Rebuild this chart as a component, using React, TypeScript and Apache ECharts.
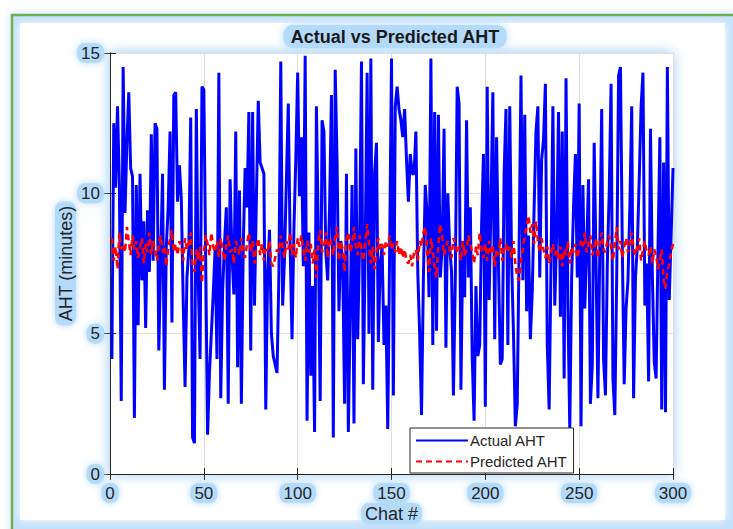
import React, { useEffect, useRef } from "react";
import * as echarts from "echarts";

const chartTitle = "Actual vs Predicted AHT";
const xAxisName = "Chat #";
const yAxisName = "AHT (minutes)";
const seriesNames = ["Actual AHT", "Predicted AHT"];

const actualAHT = [
  4.1, 12.5, 10.2, 13.1, 10.3, 2.6, 14.5, 9.3, 11.8, 13.6,
  10.9, 10.6, 2.0, 10.3, 5.3, 10.7, 6.9, 9.0, 5.2, 9.4,
  7.2, 12.1, 7.6, 12.5, 12.3, 4.4, 7.6, 10.7, 3.0, 8.1,
  9.5, 12.2, 5.4, 13.5, 13.6, 9.7, 11.0, 9.8, 6.2, 3.1,
  7.0, 8.0, 12.7, 1.3, 1.1, 13.0, 7.0, 4.1, 13.8, 13.7,
  7.5, 1.4, 3.6, 5.0, 6.4, 8.0, 4.1, 14.3, 2.7, 6.5,
  8.2, 9.5, 2.5, 10.5, 7.8, 6.4, 12.2, 3.8, 10.1, 2.5,
  8.1, 10.9, 9.5, 12.9, 4.4, 12.9, 6.0, 9.8, 13.3, 11.1,
  10.9, 10.7, 2.3, 7.2, 8.7, 5.0, 4.2, 3.9, 3.6, 7.1,
  14.7, 6.0, 7.7, 10.5, 13.2, 8.1, 4.8, 8.7, 11.2, 14.3,
  9.9, 12.0, 7.4, 14.9, 1.9, 8.6, 3.5, 6.7, 1.5, 13.1,
  8.6, 2.6, 12.6, 12.2, 7.9, 6.9, 9.5, 13.5, 1.3, 14.4,
  11.1, 5.8, 8.3, 7.5, 2.5, 10.7, 1.5, 5.8, 10.3, 1.8,
  11.6, 4.8, 8.2, 14.7, 3.2, 8.1, 14.3, 5.0, 14.8, 3.0,
  10.7, 11.8, 4.7, 7.5, 8.1, 4.6, 6.0, 1.6, 7.9, 14.8,
  2.8, 13.1, 13.8, 13.0, 12.6, 12.0, 13.0, 11.2, 9.7, 11.4,
  10.7, 10.7, 12.2, 7.2, 5.0, 2.1, 7.0, 10.3, 9.2, 6.3,
  14.8, 4.6, 12.9, 5.1, 12.8, 7.0, 8.1, 12.3, 4.5, 10.0,
  8.1, 7.2, 2.8, 7.0, 13.8, 13.2, 3.0, 8.3, 6.3, 12.6,
  7.0, 9.5, 4.2, 1.9, 6.7, 4.2, 4.6, 8.8, 11.4, 2.4,
  13.8, 6.2, 9.5, 13.6, 4.8, 12.0, 7.5, 3.9, 4.1, 10.7,
  13.0, 4.6, 13.1, 7.6, 5.0, 1.7, 2.5, 8.1, 14.2, 6.9,
  12.8, 5.8, 8.5, 4.8, 6.5, 9.5, 12.2, 13.1, 7.0, 11.2,
  11.9, 13.9, 4.6, 2.3, 7.5, 13.1, 6.0, 8.5, 12.9, 5.6,
  12.2, 3.4, 14.1, 6.0, 1.6, 7.0, 9.5, 11.4, 7.0, 13.2,
  1.7, 10.3, 5.9, 8.1, 10.5, 2.5, 3.9, 11.8, 7.5, 2.7,
  8.1, 13.0, 4.1, 2.8, 7.5, 10.0, 13.9, 3.4, 2.1, 7.0,
  14.2, 14.5, 8.0, 3.2, 5.9, 6.9, 9.5, 13.1, 2.7, 7.0,
  8.1, 10.5, 13.1, 14.3, 6.0, 7.5, 3.3, 12.3, 7.1, 4.0,
  3.4, 8.0, 12.0, 2.3, 11.1, 2.2, 14.5, 6.2, 8.5, 10.9,
];

const predictedAHT = [
  8.4, 7.6, 8.1, 7.3, 8.6, 8.0, 8.2, 7.9, 8.8, 8.3,
  7.8, 8.5, 8.0, 8.3, 7.7, 8.1, 8.4, 7.5, 8.2, 7.9,
  8.6, 7.8, 8.3, 8.0, 7.6, 8.2, 8.5, 7.9, 8.1, 7.4,
  8.0, 8.4, 8.7, 7.9, 8.2, 7.8, 8.3, 8.1, 7.6, 8.4,
  8.0, 8.2, 8.6, 7.4, 7.2, 8.0, 7.6, 8.1, 6.8, 7.9,
  8.5, 8.2, 7.8, 8.6, 8.1, 7.9, 8.3, 7.7, 8.4, 8.0,
  7.6, 8.2, 8.5, 7.9, 8.0, 7.5, 8.3, 8.1, 7.8, 8.4,
  8.0, 7.7, 8.2, 8.6, 7.9, 8.3, 7.5, 8.1, 8.4, 7.8,
  8.2, 7.6, 8.0, 7.9, 8.3, 7.5, 7.4, 7.7, 8.0, 7.9,
  8.5, 8.1, 7.7, 8.3, 8.0, 8.6, 7.8, 8.2, 7.7, 8.4,
  8.1, 8.5, 8.0, 7.6, 8.3, 7.9, 8.2, 7.5, 8.0, 7.0,
  8.3, 8.7, 7.9, 8.1, 8.6, 7.7, 8.4, 8.2, 7.8, 8.5,
  8.8, 7.6, 8.3, 8.0, 7.2, 8.4, 8.6, 7.9, 8.2, 8.8,
  8.1, 7.8, 8.5, 8.0, 7.6, 8.3, 8.9, 8.2, 7.5, 8.1,
  7.3, 7.9, 8.4, 8.0, 8.2, 7.8, 8.3, 8.1, 8.5, 8.0,
  8.2, 7.9, 8.3, 7.8, 8.1, 7.7, 8.0, 7.6, 7.5, 7.8,
  7.4, 7.9, 8.0, 7.6, 8.3, 8.1, 8.6, 8.8, 7.9, 7.2,
  8.4, 8.0, 7.3, 7.0, 8.2, 8.9, 8.5, 7.8, 8.1, 8.3,
  8.0, 7.7, 8.4, 8.2, 7.9, 8.1, 7.6, 8.3, 7.8, 8.0,
  8.5, 8.2, 7.9, 7.5, 8.1, 7.8, 8.6, 8.0, 7.7, 8.2,
  7.6, 8.3, 7.9, 8.1, 7.4, 8.0, 7.8, 8.4, 7.6, 8.0,
  8.2, 7.9, 8.1, 7.7, 8.3, 7.5, 7.0, 6.9, 7.6, 8.0,
  8.5, 8.8, 9.2, 8.6, 8.9, 8.2, 9.0, 8.3, 7.9, 8.4,
  8.0, 7.7, 8.1, 7.5, 7.9, 8.2, 7.8, 8.0, 7.6, 8.1,
  7.4, 8.0, 7.8, 8.3, 7.5, 8.1, 7.9, 8.2, 7.7, 8.0,
  8.3, 8.1, 8.6, 7.9, 8.2, 8.5, 7.8, 8.0, 8.4, 7.7,
  8.2, 8.6, 8.0, 7.9, 8.3, 8.5, 8.1, 7.6, 8.2, 8.8,
  8.0, 8.3, 7.7, 8.1, 8.4, 7.9, 8.2, 8.6, 8.0, 7.8,
  8.1, 8.4, 7.6, 8.0, 8.3, 7.9, 7.8, 8.1, 7.5, 8.0,
  7.8, 7.3, 7.6, 8.0, 6.9, 6.6, 7.2, 7.5, 7.9, 8.2,
];

const xMin = 0;
const xMax = 300;
const xInterval = 50;
const yMin = 0;
const yMax = 15;
const yInterval = 5;

const FONT = "'Liberation Sans', Arial, Helvetica, sans-serif";
const INK = "#262626";
const GLOW = "#b4dafa";

const glowBox = {
  backgroundColor: GLOW,
  borderRadius: 8,
  padding: [2, 4, 1, 4],
  shadowBlur: 7,
  shadowColor: GLOW,
};

export default function App() {
  const ref = useRef<HTMLDivElement>(null);

  useEffect(() => {
    if (!ref.current) return;
    const chart = echarts.init(ref.current, undefined, { renderer: "svg" });

    const actualData = actualAHT.map((v, i) => [i + 1, v]);
    const predData = predictedAHT.map((v, i) => [i + 1, v]);

    const hiddenAxisCommon = {
      axisLabel: { show: false },
      splitLine: { show: false },
      axisLine: { show: true, lineStyle: { color: INK, width: 1 } },
      axisTick: { show: true, inside: true, length: 6, lineStyle: { color: INK } },
    };

    chart.setOption({
      animation: false,
      backgroundColor: "#ffffff",
      title: {
        text: chartTitle,
        left: 388,
        top: 25,
        textAlign: "center",
        padding: [3, 7, 2, 7],
        backgroundColor: GLOW,
        borderRadius: 9,
        shadowBlur: 8,
        shadowColor: GLOW,
        textStyle: {
          fontFamily: FONT,
          fontSize: 18,
          fontWeight: "bold",
          color: "#1a1a1a",
        },
      },
      graphic: [
        {
          type: "rect",
          z: -20,
          shape: { x: 12, y: 15, width: 760, height: 560 },
          style: {
            fill: "#c4e1fa",
            stroke: "#70ad47",
            lineWidth: 2.5,
            shadowBlur: 10,
            shadowColor: "#c4e1fa",
          },
          silent: true,
        },
        {
          type: "rect",
          z: -19,
          shape: { x: 20, y: 23, width: 705, height: 497 },
          style: {
            fill: "#ffffff",
            shadowBlur: 8,
            shadowColor: "#ffffff",
          },
          silent: true,
        },
      ],
      grid: {
        left: 110,
        right: 60,
        top: 53,
        bottom: 55,
        show: true,
        backgroundColor: "#ffffff",
        borderWidth: 0,
        shadowBlur: 14,
        shadowColor: "#8fc6f5",
      },
      legend: {
        orient: "vertical",
        left: 410,
        top: 428,
        padding: [5, 6, 4, 5],
        itemGap: 6,
        itemWidth: 52,
        itemHeight: 14,
        backgroundColor: "#ffffff",
        borderColor: INK,
        borderWidth: 1,
        borderRadius: 0,
        itemStyle: { opacity: 0, borderWidth: 0 },
        textStyle: { fontFamily: FONT, fontSize: 15, color: INK, padding: [0, 0, 0, -3] },
        data: seriesNames,
      },
      xAxis: [
        {
          type: "value",
          min: xMin,
          max: xMax,
          interval: xInterval,
          position: "bottom",
          name: xAxisName,
          nameLocation: "middle",
          nameGap: 29,
          nameMoveOverlap: false,
          nameTextStyle: {
            fontFamily: FONT,
            fontSize: 18,
            color: INK,
            ...glowBox,
          },
          axisLine: { show: true, lineStyle: { color: INK, width: 1 } },
          axisTick: { show: true, inside: true, length: 6, lineStyle: { color: INK } },
          axisLabel: {
            fontFamily: FONT,
            fontSize: 17,
            color: INK,
            margin: 9,
            ...glowBox,
          },
          splitLine: { show: true, lineStyle: { color: "#dedede", width: 1 } },
        },
        {
          type: "value",
          min: xMin,
          max: xMax,
          interval: xInterval,
          position: "top",
          ...hiddenAxisCommon,
        },
      ],
      yAxis: [
        {
          type: "value",
          min: yMin,
          max: yMax,
          interval: yInterval,
          position: "left",
          name: yAxisName,
          nameLocation: "middle",
          nameGap: 34,
          nameMoveOverlap: false,
          nameRotate: 90,
          nameTextStyle: {
            fontFamily: FONT,
            fontSize: 18,
            color: INK,
            ...glowBox,
          },
          axisLine: { show: true, lineStyle: { color: INK, width: 1 } },
          axisTick: { show: true, inside: true, length: 6, lineStyle: { color: INK } },
          axisLabel: {
            fontFamily: FONT,
            fontSize: 17,
            color: INK,
            margin: 6,
            ...glowBox,
          },
          splitLine: { show: true, lineStyle: { color: "#dedede", width: 1 } },
        },
        {
          type: "value",
          min: yMin,
          max: yMax,
          interval: yInterval,
          position: "right",
          ...hiddenAxisCommon,
        },
      ],
      series: [
        {
          name: seriesNames[0],
          type: "line",
          xAxisIndex: 0,
          yAxisIndex: 0,
          data: actualData,
          showSymbol: false,
          symbol: "none",
          lineStyle: { color: "#0000ff", width: 3 },
          itemStyle: { color: "#0000ff" },
          z: 2,
        },
        {
          name: seriesNames[1],
          type: "line",
          xAxisIndex: 0,
          yAxisIndex: 0,
          data: predData,
          showSymbol: false,
          symbol: "none",
          lineStyle: { color: "#ff0000", width: 2.5, type: [6, 4] },
          itemStyle: { color: "#ff0000" },
          z: 3,
        },
      ],
    });

    return () => chart.dispose();
  }, []);

  return <div ref={ref} style={{ width: 733, height: 529, position: "absolute", left: 0, top: 0 }} />;
}
